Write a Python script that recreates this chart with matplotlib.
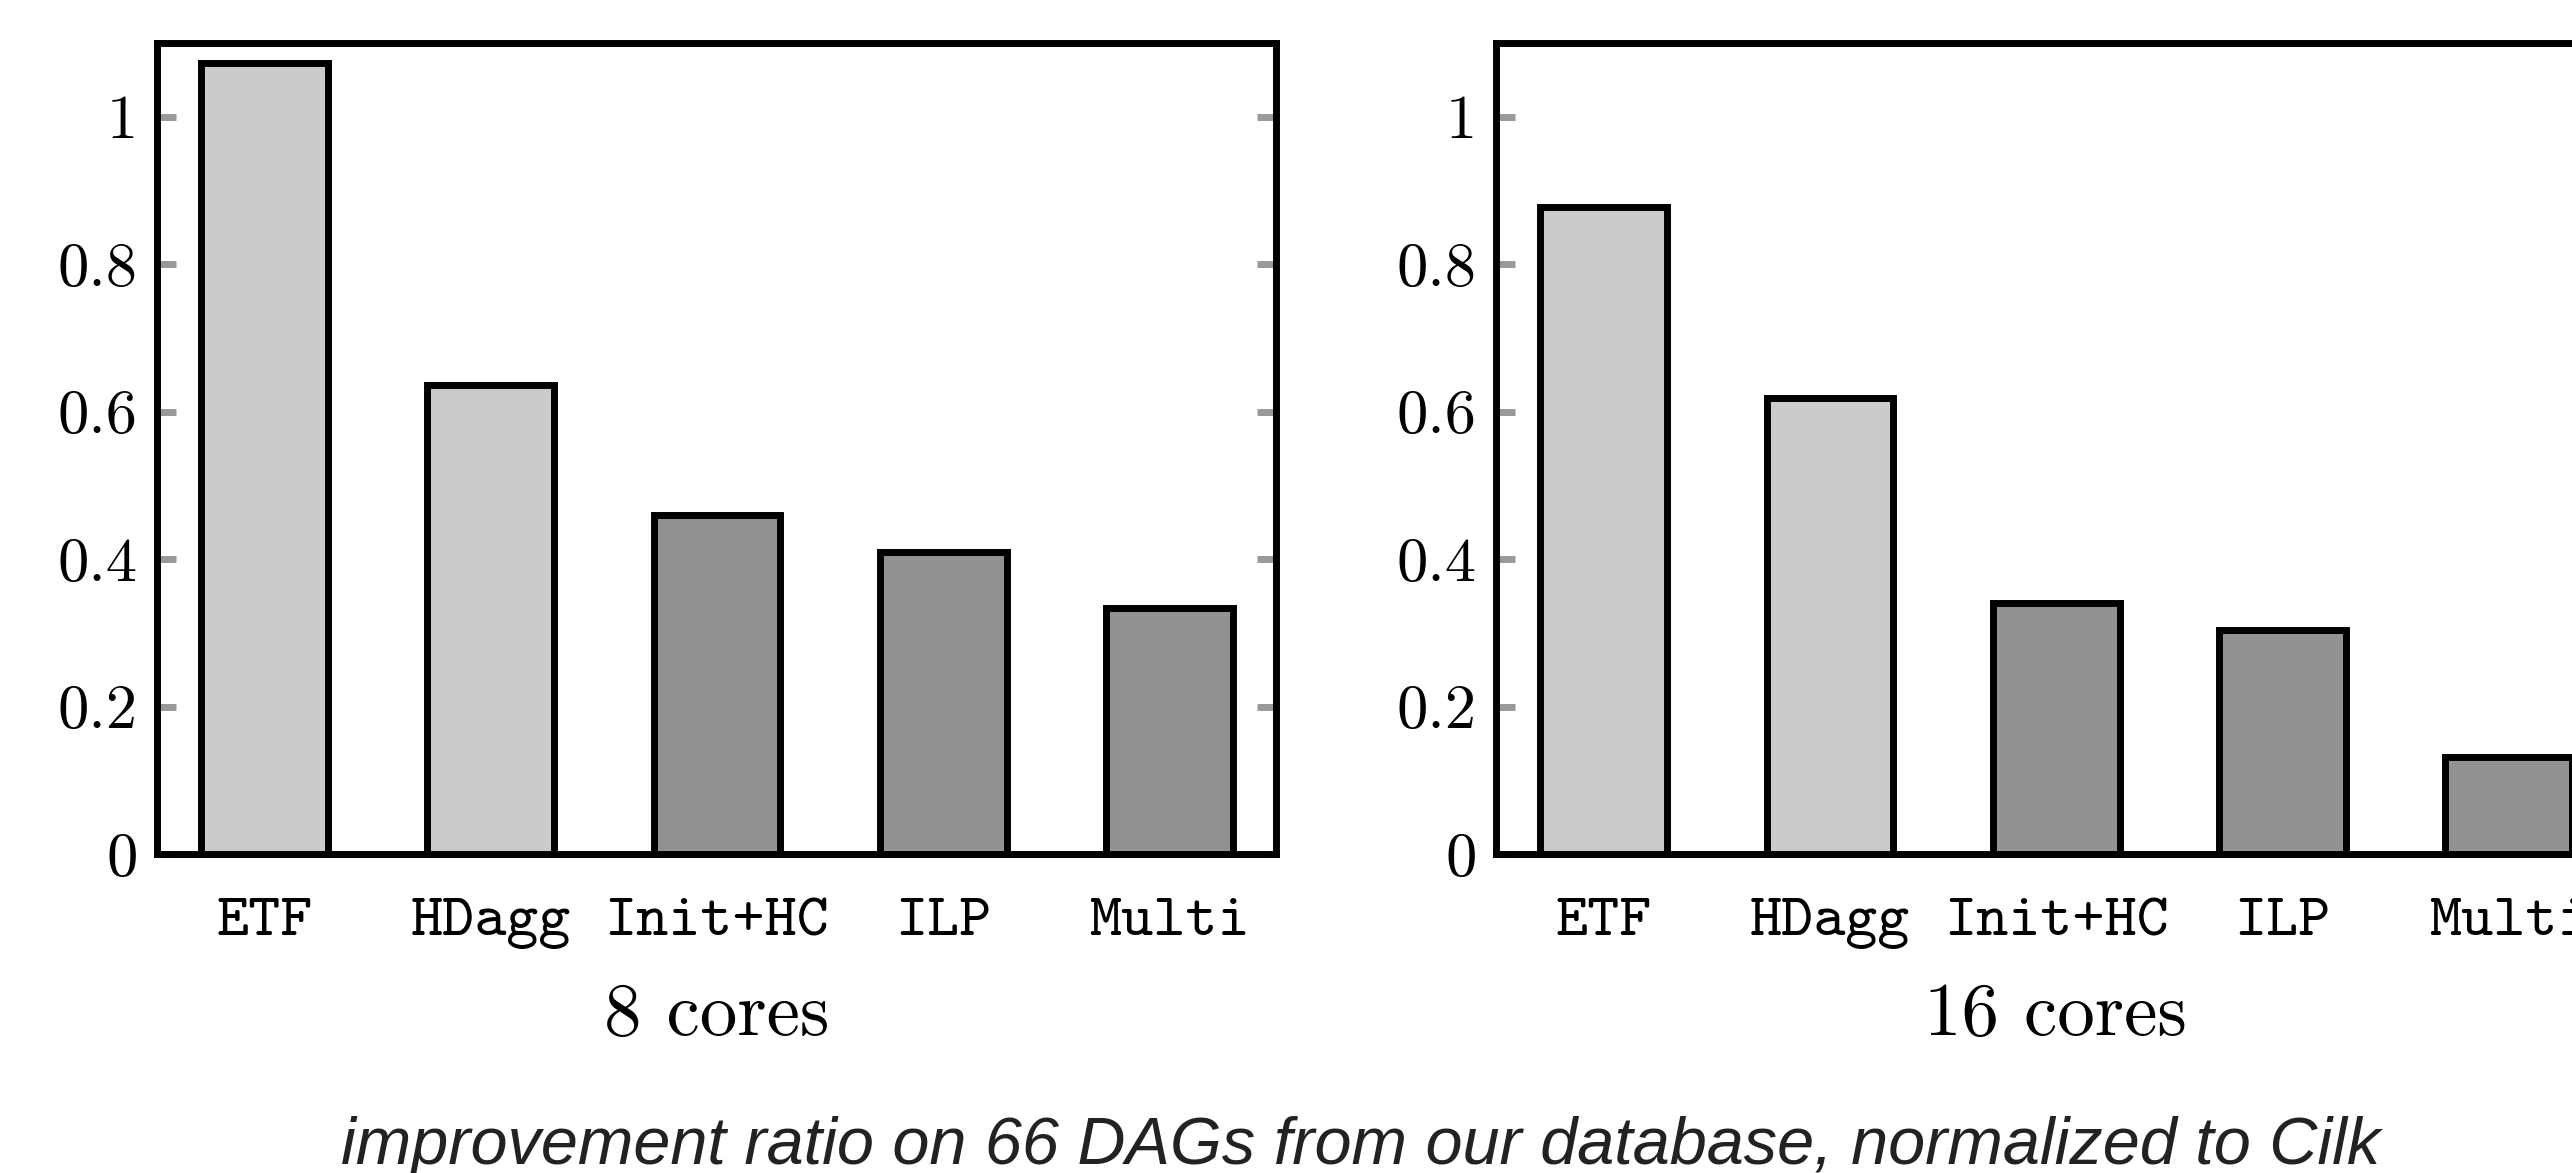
import matplotlib
matplotlib.use("Agg")
import matplotlib.pyplot as plt

# improvement ratio, normalized to Cilk
methods = ["ETF", "HDagg", "Init+HC", "ILP", "Multi"]
ratio_8 = [1.073, 0.636, 0.460, 0.409, 0.333]
ratio_16 = [0.878, 0.618, 0.340, 0.304, 0.131]
panel_labels = ["8 cores", "16 cores"]
yticks = [0, 0.2, 0.4, 0.6, 0.8, 1.0]
ytick_labels = ["0", "0.2", "0.4", "0.6", "0.8", "1"]

light = "#cbcbcb"
dark = "#929292"
bar_colors = [light, light, dark, dark, dark]

fig = plt.figure(figsize=(25.72, 11.73), dpi=100)
ax1 = fig.add_axes([0.0610, 0.2720, 0.4351, 0.6913])
ax2 = fig.add_axes([0.5817, 0.2720, 0.4351, 0.6913])

for ax, vals, lab in zip([ax1, ax2], [ratio_8, ratio_16], panel_labels):
    x = range(len(methods))
    ax.bar(x, vals, width=0.56, color=bar_colors, edgecolor="black",
           linewidth=5, zorder=3)
    ax.set_xlim(-0.475, 4.47)
    ax.set_ylim(0, 1.1)
    ax.set_xticks(list(x))
    ax.set_xticklabels(methods, family="cmtt10", fontsize=44)
    ax.set_yticks(yticks)
    ax.set_yticklabels(ytick_labels, family="cmr10", fontsize=45)
    ax.tick_params(axis="x", length=0, pad=32)
    ax.tick_params(axis="y", direction="in", length=14, width=5,
                   color="#999999", pad=14, right=True)
    for sp in ax.spines.values():
        sp.set_linewidth(5)
        sp.set_color("black")
    ax.set_xlabel(lab, family="cmr10", fontsize=54, labelpad=24)

# caption sits at the very bottom, descenders touch the edge as in the original
fig.text(0.529, 0.008, "improvement ratio on 66 DAGs from our database, normalized to Cilk",
         ha="center", va="baseline", family="Liberation Sans", style="italic",
         fontsize=48, color="#222222")

fig.savefig("out.png", dpi=100)
